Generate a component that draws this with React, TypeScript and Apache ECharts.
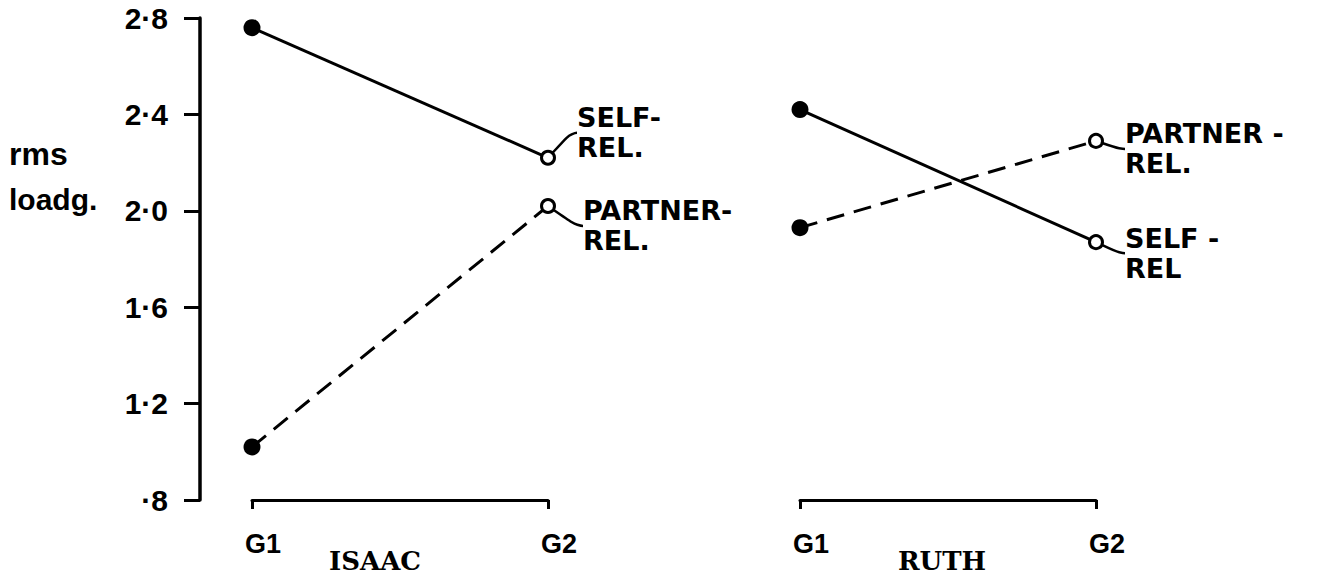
import React, { useEffect, useRef } from "react";
import * as echarts from "echarts";

const groups = ["G1", "G2"];
const isaacSelf = [2.76, 2.22];
const isaacPartner = [1.02, 2.02];
const ruthSelf = [2.42, 1.87];
const ruthPartner = [1.93, 2.29];
const yMin = 0.8;
const yMax = 2.8;
const yStep = 0.4;
const personNames = ["ISAAC", "RUTH"];
const yTitle = ["rms", "loadg."];

const SANS = "'Liberation Sans', Arial, sans-serif";
const ANNO = "'DejaVu Sans', sans-serif";

function points(vals: number[], labelText: string) {
  return vals.map((v, i) =>
    i === 0
      ? { value: v, symbol: "circle", symbolSize: 17, itemStyle: { color: "#000", borderWidth: 0 } }
      : {
          value: v,
          symbol: "circle",
          symbolSize: 13,
          itemStyle: { color: "#fff", borderColor: "#000", borderWidth: 3 },
          label: {
            show: true,
            position: "right",
            formatter: labelText,
            fontFamily: ANNO,
            fontWeight: "bold",
            fontSize: 27,
            lineHeight: 30,
            color: "#000",
            align: "left",
          },
        }
  );
}

export default function App() {
  const ref = useRef<HTMLDivElement>(null);
  useEffect(() => {
    if (!ref.current) return;
    const chart = echarts.init(ref.current, null, { renderer: "svg" });
    const namePad = [[0, 50, 0, 0], [0, 12, 0, 0]];
    const xAxisCommon = (i: number) => ({
      type: "category",
      gridIndex: i,
      data: groups,
      boundaryGap: false,
      axisLine: { show: true, lineStyle: { color: "#000", width: 3 } },
      axisTick: { show: true, length: 9, lineStyle: { color: "#000", width: 3 } },
      axisLabel: {
        color: "#000",
        fontFamily: SANS,
        fontWeight: "bold",
        fontSize: 27,
        margin: 30,
        padding: [0, 0, 0, 22],
      },
      name: personNames[i],
      nameLocation: "middle",
      nameGap: 48,
      nameMoveOverlap: false,
      nameTextStyle: {
        color: "#000",
        fontFamily: "'DejaVu Serif', serif",
        fontWeight: "bold",
        fontSize: 26,
        padding: namePad[i],
      },
      splitLine: { show: false },
    });
    const lineCommon = {
      type: "line",
      lineStyle: { color: "#000", width: 3 },
      z: 3,
      labelLine: { show: true, smooth: 0.7, length2: 6, lineStyle: { color: "#000", width: 2.5 } },
    };
    chart.setOption({
      animation: false,
      backgroundColor: "#fff",
      grid: [
        { left: 252, width: 296, top: 18, height: 482, outerBoundsMode: "none" },
        { left: 800, width: 296, top: 18, height: 482, outerBoundsMode: "none" },
      ],
      xAxis: [xAxisCommon(0), xAxisCommon(1)],
      yAxis: [
        {
          type: "value",
          gridIndex: 0,
          min: yMin,
          max: yMax,
          interval: yStep,
          offset: 52,
          axisLine: { show: true, lineStyle: { color: "#000", width: 3.5 } },
          axisTick: { show: true, length: 16, lineStyle: { color: "#000", width: 3 } },
          axisLabel: {
            color: "#000",
            fontFamily: SANS,
            fontWeight: "bold",
            fontSize: 30,
            margin: 32,
            formatter: (v: number) => v.toFixed(1).replace(/^0/, "").replace(".", "·"),
          },
          splitLine: { show: false },
        },
        { type: "value", gridIndex: 1, min: yMin, max: yMax, interval: yStep, show: false },
      ],
      graphic: [
        {
          type: "text",
          left: 9,
          top: 138,
          style: { text: yTitle[0], font: `bold 32px ${SANS}`, fill: "#000" },
        },
        {
          type: "text",
          left: 9,
          top: 184,
          style: { text: yTitle[1], font: `bold 30px ${SANS}`, fill: "#000" },
        },
      ],
      series: [
        {
          ...lineCommon,
          name: "Isaac self",
          xAxisIndex: 0,
          yAxisIndex: 0,
          labelLayout: { dx: 16, dy: -25 },
          data: points(isaacSelf, "SELF-\nREL."),
        },
        {
          ...lineCommon,
          name: "Isaac partner",
          xAxisIndex: 0,
          yAxisIndex: 0,
          lineStyle: { color: "#000", width: 3, type: [18, 10] },
          labelLayout: { dx: 22, dy: 20 },
          data: points(isaacPartner, "PARTNER-\nREL."),
        },
        {
          ...lineCommon,
          name: "Ruth self",
          xAxisIndex: 1,
          yAxisIndex: 1,
          labelLayout: { dx: 16, dy: 11 },
          data: points(ruthSelf, "SELF -\nREL"),
        },
        {
          ...lineCommon,
          name: "Ruth partner",
          xAxisIndex: 1,
          yAxisIndex: 1,
          lineStyle: { color: "#000", width: 3, type: [18, 10] },
          labelLayout: { dx: 16, dy: 8 },
          data: points(ruthPartner, "PARTNER -\nREL."),
        },
      ],
    });
    return () => chart.dispose();
  }, []);
  return (
    <div
      ref={ref}
      style={{ position: "absolute", left: 0, top: 0, width: 1322, height: 582, background: "#fff" }}
    />
  );
}
